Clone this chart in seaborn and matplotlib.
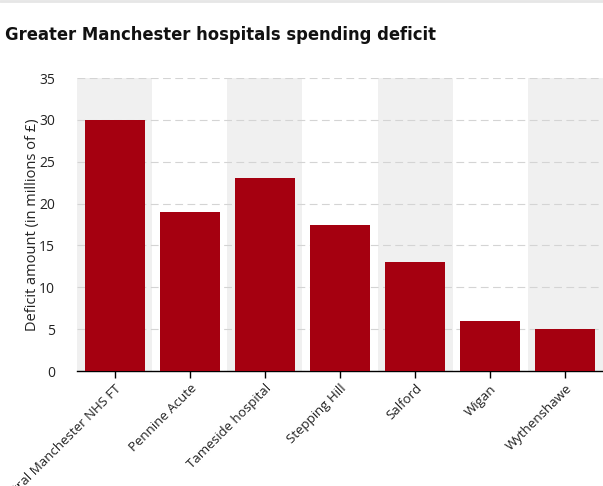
import matplotlib
matplotlib.use("Agg")
import matplotlib.pyplot as plt
import seaborn as sns
import pandas as pd
from matplotlib.lines import Line2D

hospitals = ["Central Manchester NHS FT", "Pennine Acute", "Tameside hospital",
             "Stepping Hill", "Salford", "Wigan", "Wythenshawe"]
deficit = [30, 19, 23.1, 17.4, 13, 6, 5]
y_ticks = [0, 5, 10, 15, 20, 25, 30, 35]

df = pd.DataFrame({"hospital": hospitals, "deficit": deficit})

sns.set_theme(style="white")
plt.rcParams['font.family'] = ['Open Sans', 'DejaVu Sans']

fig = plt.figure(figsize=(6.03, 4.86), dpi=100)
ax = fig.add_axes([0.1277, 0.2366, 0.8723, 0.6029])

for i in range(len(hospitals)):
    if i % 2 == 0:
        ax.axvspan(i - 0.5, i + 0.5, color="#f0f0f0", zorder=0, lw=0)

sns.barplot(data=df, x="hospital", y="deficit", color="#a50010", saturation=1,
            width=0.8, ax=ax, zorder=3, edgecolor="none")

ax.set_xlim(-0.5, len(hospitals) - 0.5)
ax.set_ylim(0, 35)
ax.set_yticks(y_ticks)
ax.yaxis.grid(True, linestyle=(0, (7, 4)), color="#d4d4d4", linewidth=0.8, zorder=1)
ax.set_axisbelow(True)
for s in ["top", "right", "left"]:
    ax.spines[s].set_visible(False)
ax.spines["bottom"].set_color("#000000")
ax.spines["bottom"].set_linewidth(1)
ax.tick_params(axis="x", bottom=True, length=5, width=1, color="#000000", labelsize=9.5, pad=3)
ax.tick_params(axis="y", left=False, labelsize=10, pad=10)
ax.set_xticks(range(len(hospitals)))
ax.set_xticklabels(hospitals, rotation=45, ha="right", rotation_mode="anchor", color="#222222")
for t in ax.get_yticklabels():
    t.set_color("#222222")
ax.set_xlabel("")
ax.set_ylabel("Deficit amount (in millions of £)", fontsize=10.5, color="#222222", va="center")
ax.yaxis.set_label_coords(-0.085, 0.5)

title = fig.text(0.008, 0.929, "Greater Manchester hospitals spending deficit",
                 fontsize=20, fontweight="bold", fontstretch="condensed",
                 family=["DejaVu Sans"], color="#111111", ha="left", va="center")
fig.canvas.draw()
w = title.get_window_extent().width
title.set_fontsize(20 * 432 / w)
fig.add_artist(Line2D([0, 1], [0.998, 0.998], color="#e6e6e6", lw=2, transform=fig.transFigure))

fig.savefig("out.png", dpi=100)
